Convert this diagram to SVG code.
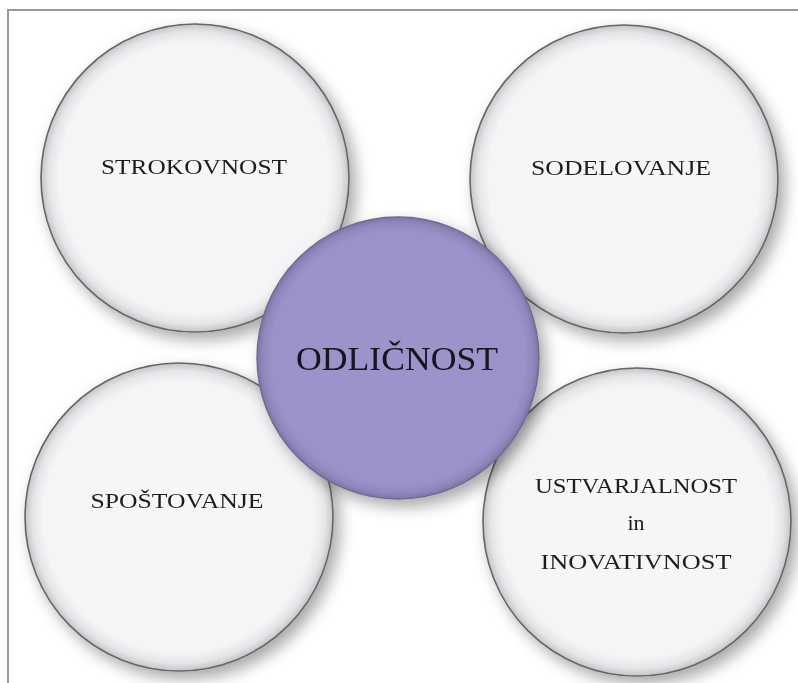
<svg xmlns="http://www.w3.org/2000/svg" width="798" height="683" viewBox="0 0 798 683">
  <defs>
    <radialGradient id="gWhite" cx="50%" cy="50%" r="50%">
      <stop offset="0" stop-color="#f6f7f9"/>
      <stop offset="0.88" stop-color="#f4f5f7"/>
      <stop offset="0.95" stop-color="#e4e5e7"/>
      <stop offset="1" stop-color="#c4c5c8"/>
    </radialGradient>
    <radialGradient id="gPurple" cx="50%" cy="50%" r="50%">
      <stop offset="0" stop-color="#9c94ca"/>
      <stop offset="0.9" stop-color="#9a92c8"/>
      <stop offset="0.96" stop-color="#8f88bd"/>
      <stop offset="1" stop-color="#7c76a6"/>
    </radialGradient>
    <filter id="shadow" x="-20%" y="-20%" width="150%" height="150%">
      <feGaussianBlur in="SourceAlpha" stdDeviation="8"/>
      <feOffset dx="6" dy="7" result="b"/>
      <feComponentTransfer><feFuncA type="linear" slope="0.35"/></feComponentTransfer>
      <feMerge><feMergeNode/><feMergeNode in="SourceGraphic"/></feMerge>
    </filter>
  </defs>
  <style>
    .w { fill: url(#gWhite); stroke: #666; stroke-width: 1.6; }
    .p { fill: url(#gPurple); stroke: #6f6a90; stroke-width: 1.4; }
    .t { font-family: "Liberation Serif", "DejaVu Serif", serif; font-size: 22px; fill: #1e1e1e; text-anchor: middle; }
    .big { font-size: 33px; fill: #15131f; }
  </style>
  <rect width="798" height="683" fill="#ffffff"/>
  <path d="M8,683 V10 H798" fill="none" stroke="#9a9a9a" stroke-width="2"/>

  <g id="strokovnost" filter="url(#shadow)">
    <circle class="w" cx="195" cy="178" r="154"/>
    <text class="t" x="194" y="174" textLength="186" lengthAdjust="spacingAndGlyphs">STROKOVNOST</text>
  </g>
  <g id="sodelovanje" filter="url(#shadow)">
    <circle class="w" cx="624" cy="179" r="154"/>
    <text class="t" x="621" y="175" textLength="180" lengthAdjust="spacingAndGlyphs">SODELOVANJE</text>
  </g>
  <g id="spostovanje" filter="url(#shadow)">
    <circle class="w" cx="179" cy="517" r="154"/>
    <text class="t" x="177" y="508" textLength="173" lengthAdjust="spacingAndGlyphs">SPOŠTOVANJE</text>
  </g>
  <g id="ustvarjalnost" filter="url(#shadow)">
    <circle class="w" cx="637" cy="522" r="154"/>
    <text class="t" x="636" y="493" textLength="202" lengthAdjust="spacingAndGlyphs">USTVARJALNOST</text>
    <text class="t" x="636" y="530">in</text>
    <text class="t" x="636" y="569" textLength="191" lengthAdjust="spacingAndGlyphs">INOVATIVNOST</text>
  </g>
  <g id="odlicnost" filter="url(#shadow)">
    <circle class="p" cx="398" cy="358" r="141"/>
    <text class="t big" x="397" y="370" textLength="202" lengthAdjust="spacingAndGlyphs">ODLIČNOST</text>
  </g>
  <g id="connectors"/>
</svg>
